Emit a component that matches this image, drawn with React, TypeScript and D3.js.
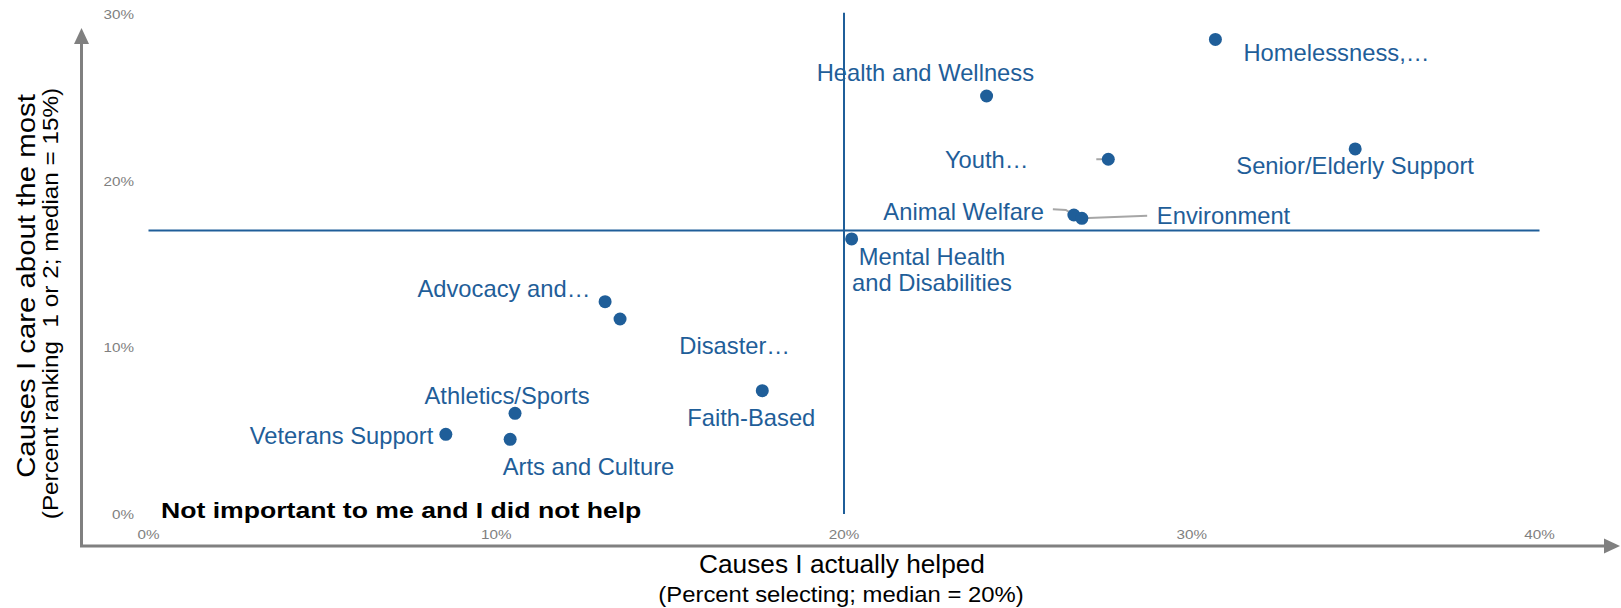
import React from "react";
import * as d3 from "d3";

// ---- data ----
const causes = [
  "Homelessness,…",
  "Health and Wellness",
  "Senior/Elderly Support",
  "Youth…",
  "Animal Welfare",
  "Environment",
  "Mental Health\nand Disabilities",
  "Advocacy and…",
  "Disaster…",
  "Faith-Based",
  "Athletics/Sports",
  "Veterans Support",
  "Arts and Culture",
];
const helpedPct = [30.68, 24.1, 34.7, 27.6, 26.61, 26.84, 20.22, 13.13, 13.56, 17.65, 10.54, 8.55, 10.4];
const carePct = [28.52, 25.12, 21.94, 21.32, 17.97, 17.77, 16.53, 12.76, 11.72, 7.41, 6.05, 4.79, 4.49];

const xTicks = [0, 10, 20, 30, 40];
const yTicks = [0, 10, 20, 30];
const medianHelped = 20;
const medianCareDrawn = 17.04;

const xTitle = "Causes I actually helped";
const xSubtitle = "(Percent selecting; median = 20%)";
const yTitle = "Causes I care about the most";
const ySubtitle = "(Percent ranking  1 or 2; median = 15%)";
const quadrantNote = "Not important to me and I did not help";

// label layout (offsets relative to the point, in px)
type Lay = { anchor: "start" | "end" | "middle"; dx: number; dy: number; leader?: [number, number][] };
const labelLayout: Lay[] = [
  { anchor: "start", dx: 28, dy: 21.7 },
  { anchor: "middle", dx: -61.2, dy: -15.1 },
  { anchor: "start", dx: -118.9, dy: 25 },
  { anchor: "end", dx: -79.7, dy: 8.4, leader: [[-12, 0], [0, 0]] },
  { anchor: "end", dx: -29.9, dy: 5.5, leader: [[-21, -5.7], [-8, -5], [0, 0]] },
  { anchor: "start", dx: 75, dy: 6, leader: [[0, 0], [65.3, -2.6]] },
  { anchor: "middle", dx: 80.3, dy: 26 },
  { anchor: "end", dx: -14.7, dy: -4.8 },
  { anchor: "start", dx: 59.2, dy: 34.8 },
  { anchor: "middle", dx: -11, dy: 35.5 },
  { anchor: "middle", dx: -8, dy: -9.3 },
  { anchor: "end", dx: -12.5, dy: 9.4 },
  { anchor: "start", dx: -7.5, dy: 35.7 },
];

const W = 1621;
const H = 608;
const BLUE = "#1F5E99";
const GRAY = "#808080";
const FONT = "'Liberation Sans', Arial, Helvetica, sans-serif";

function T(props: {
  x: number; y: number; text: string; fs: number; sx?: number; anchor?: string;
  fill?: string; weight?: string | number; rotate?: number;
}) {
  const { x, y, text, fs, sx = 1, anchor = "start", fill = "#000", weight = "normal", rotate = 0 } = props;
  return (
    <text
      transform={`translate(${x},${y})${rotate ? ` rotate(${rotate})` : ""} scale(${sx},1)`}
      textAnchor={anchor}
      fontSize={fs}
      fontFamily={FONT}
      fontWeight={weight}
      fill={fill}
      style={{ whiteSpace: "pre" }}
    >
      {text}
    </text>
  );
}

export default function App() {
  const x = d3.scaleLinear().domain([0, 40]).range([148.5, 1539.5]);
  const y = d3.scaleLinear().domain([0, 30]).range([514, 14.8]);

  const axisX = 81.5;
  const axisY = 546;

  const points = causes.map((c, i) => ({
    name: c,
    px: x(helpedPct[i]),
    py: y(carePct[i]),
    lay: labelLayout[i],
  }));

  const line = d3.line<[number, number]>();

  const labFs = 23;
  const labSx = 1.033;

  return (
    <svg
      width={W}
      height={H}
      viewBox={`0 0 ${W} ${H}`}
      style={{ position: "absolute", left: 0, top: 0, background: "#fff" }}
    >
      <rect x={0} y={0} width={W} height={H} fill="#fff" />

      {/* axes with arrows */}
      <line x1={axisX} y1={axisY} x2={axisX} y2={42} stroke={GRAY} strokeWidth={3} />
      <path d={`M${axisX - 7.5},${44} L${axisX},${28} L${axisX + 7.5},${44} Z`} fill={GRAY} />
      <line x1={axisX - 1.5} y1={axisY} x2={1606} y2={axisY} stroke={GRAY} strokeWidth={3} />
      <path d={`M${1604},${axisY - 7.5} L${1620},${axisY} L${1604},${axisY + 7.5} Z`} fill={GRAY} />

      {/* tick labels */}
      {yTicks.map((t) => (
        <T key={"y" + t} x={134} y={y(t) + 4.6} text={`${t}%`} fs={12.5} sx={1.22} anchor="end" fill={GRAY} />
      ))}
      {xTicks.map((t) => (
        <T key={"x" + t} x={x(t)} y={538.8} text={`${t}%`} fs={12.5} sx={1.22} anchor="middle" fill={GRAY} />
      ))}

      {/* median lines */}
      <line x1={x(0)} x2={x(40)} y1={y(medianCareDrawn)} y2={y(medianCareDrawn)} stroke={BLUE} strokeWidth={2} />
      <line x1={x(medianHelped)} x2={x(medianHelped)} y1={y(0)} y2={y(30) - 2} stroke={BLUE} strokeWidth={2} />

      {/* leaders */}
      {points.map((p, i) =>
        p.lay.leader ? (
          <path
            key={"l" + i}
            d={line(p.lay.leader.map(([dx, dy]) => [p.px + dx, p.py + dy] as [number, number])) || ""}
            fill="none"
            stroke="#A6A6A6"
            strokeWidth={2}
          />
        ) : null
      )}

      {/* dots */}
      {points.map((p, i) => (
        <circle key={"c" + i} cx={p.px} cy={p.py} r={6.5} fill={BLUE} />
      ))}

      {/* data labels */}
      {points.map((p, i) =>
        p.name.split("\n").map((ln, j) => (
          <T
            key={"t" + i + "-" + j}
            x={p.px + p.lay.dx}
            y={p.py + p.lay.dy + j * 26}
            text={ln}
            fs={labFs}
            sx={labSx}
            anchor={p.lay.anchor}
            fill={BLUE}
          />
        ))
      )}

      {/* quadrant note */}
      <T x={161} y={518} text={quadrantNote} fs={22} sx={1.21} weight="bold" fill="#000" />

      {/* axis titles */}
      <T x={842} y={573} text={xTitle} fs={25} sx={1.05} anchor="middle" />
      <T x={841} y={602} text={xSubtitle} fs={21.5} sx={1.11} anchor="middle" />
      <T x={35} y={286} text={yTitle} fs={26} sx={1.13} anchor="middle" rotate={-90} />
      <T x={58} y={303.5} text={ySubtitle} fs={21.5} sx={1.13} anchor="middle" rotate={-90} />
    </svg>
  );
}
